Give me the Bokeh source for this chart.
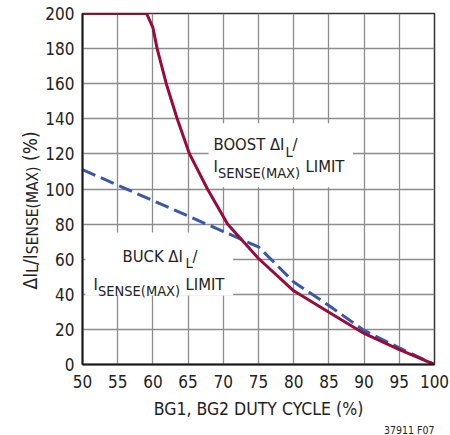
import math
from bokeh.plotting import figure
from bokeh.models import Label, FixedTicker, Range1d, Title
from bokeh.layouts import row
from bokeh.embed import file_html
from bokeh.resources import INLINE

# ---- data ----
duty_boost = [50, 59.1, 60, 60.6, 61.9, 63.45, 65.2, 67.75, 70.6, 75, 80, 85, 90, 95, 100]
boost_limit = [200, 200, 192, 180, 160, 140, 120, 100, 80, 60.4, 42, 29.8, 17.7, 8.5, 0]

duty_buck = [50, 75, 80, 85, 90, 95, 100]
buck_limit = [111, 67, 47, 33.6, 19.4, 9.5, 0]

x_ticks = [50, 55, 60, 65, 70, 75, 80, 85, 90, 95, 100]
y_ticks = [0, 20, 40, 60, 80, 100, 120, 140, 160, 180, 200]

FONT = "DejaVu Sans Condensed, sans-serif"
RED = "#9a0a3a"
BLUE = "#3a57a8"
INK = "#222222"

H = 435      # total height
LW = 42      # width of the strip holding the y-axis title

p = figure(frame_width=352, frame_height=351,
           x_range=Range1d(50, 100), y_range=Range1d(0, 200),
           output_backend="svg", toolbar_location=None,
           min_border_left=40, min_border_right=15,
           min_border_top=13, min_border_bottom=H - 13 - 351)
p.background_fill_color = "white"
p.border_fill_color = "white"
p.outline_line_color = "#333333"
p.outline_line_width = 1.5

for ax in (p.xaxis[0], p.yaxis[0]):
    ax.major_tick_out = 0
    ax.major_tick_in = 0
    ax.minor_tick_out = 0
    ax.minor_tick_in = 0
    ax.axis_line_color = "#1a1a1a"
    ax.axis_line_width = 2
    ax.major_label_text_font = FONT
    ax.major_label_text_font_size = "17px"
    ax.major_label_text_color = INK

p.xaxis.ticker = FixedTicker(ticks=x_ticks)
p.yaxis.ticker = FixedTicker(ticks=y_ticks)
p.xaxis.major_label_standoff = 10
p.yaxis.major_label_standoff = 8
p.xaxis.axis_label = "BG1, BG2 DUTY CYCLE (%)"
p.xaxis.axis_label_text_font = FONT
p.xaxis.axis_label_text_font_size = "17.5px"
p.xaxis.axis_label_text_font_style = "normal"
p.xaxis.axis_label_text_color = INK
p.xaxis.axis_label_standoff = 8

p.grid.grid_line_color = "#8c8c8c"
p.grid.grid_line_width = 1.3
p.xgrid.ticker = FixedTicker(ticks=x_ticks)
p.ygrid.ticker = FixedTicker(ticks=y_ticks)

# white label boxes (hide grid behind annotations)
boost_box = dict(left=67.9, right=88.4, top=137.5, bottom=101)
buck_box = dict(left=50.4, right=71.4, top=75.2, bottom=39.3)
for b in (boost_box, buck_box):
    p.quad(left=[b["left"]], right=[b["right"]], top=[b["top"]], bottom=[b["bottom"]],
           fill_color="white", line_color=None)

p.line(duty_buck, buck_limit, line_color=BLUE, line_width=3, line_dash="14 6")
p.line(duty_boost, boost_limit, line_color=RED, line_width=3)


def txt(fig, x, y, s, size, angle=0.0, align="left"):
    fig.add_layout(Label(x=x, y=y, text=s, text_font=FONT, text_font_size=size,
                         text_color=INK, text_align=align,
                         text_baseline="middle", angle=angle))


def dx(px):   # screen px -> duty cycle value
    return 50 + (px - 82) * 50 / 352


def dy(py):   # screen px -> percent value
    return (364 - py) * 200 / 351


MAIN = "16.5px"
SUB = "14.5px"
# BOOST annotation (anchors at the middle of the capitals)
txt(p, dx(213), dy(144), "BOOST ΔI", MAIN)
txt(p, dx(285), dy(151), "L", SUB)
txt(p, dx(292), dy(144), "/", MAIN)
txt(p, dx(213), dy(166), "I", MAIN)
txt(p, dx(217.5), dy(172.5), "SENSE(MAX)", SUB)
txt(p, dx(305), dy(166), "LIMIT", MAIN)
# BUCK annotation
txt(p, dx(122), dy(256), "BUCK ΔI", MAIN)
txt(p, dx(185), dy(262), "L", SUB)
txt(p, dx(192), dy(256), "/", MAIN)
txt(p, dx(93), dy(284), "I", MAIN)
txt(p, dx(97.5), dy(290.5), "SENSE(MAX)", SUB)
txt(p, dx(185), dy(284), "LIMIT", MAIN)

# figure id below the axis title
p.add_layout(Title(text="37911 F07", align="right", text_font=FONT,
                   text_font_size="10.5px", text_font_style="normal",
                   text_color=INK, standoff=0), "below")

# strip on the left carrying the composed y-axis title (pixel coordinates)
ly = figure(frame_width=LW, frame_height=H, x_range=Range1d(0, LW), y_range=Range1d(H, 0),
            output_backend="svg", toolbar_location=None,
            min_border=0, x_axis_type=None, y_axis_type=None)
ly.outline_line_color = None
ly.grid.visible = False
ly.background_fill_color = "white"
ly.border_fill_color = "white"

A = math.pi / 2
YM = "19px"
YS = "15.5px"
txt(ly, 29, 276, "ΔI", YM, A)
txt(ly, 32.5, 259.3, "L", YS, A)
txt(ly, 29, 251.5, "/I", YM, A)
txt(ly, 32.5, 240.7, "SENSE(MAX)", YS, A)
txt(ly, 29, 147.5, "(%)", YM, A)

layout = row(ly, p)
open("out.html", "w").write(file_html(layout, INLINE))
